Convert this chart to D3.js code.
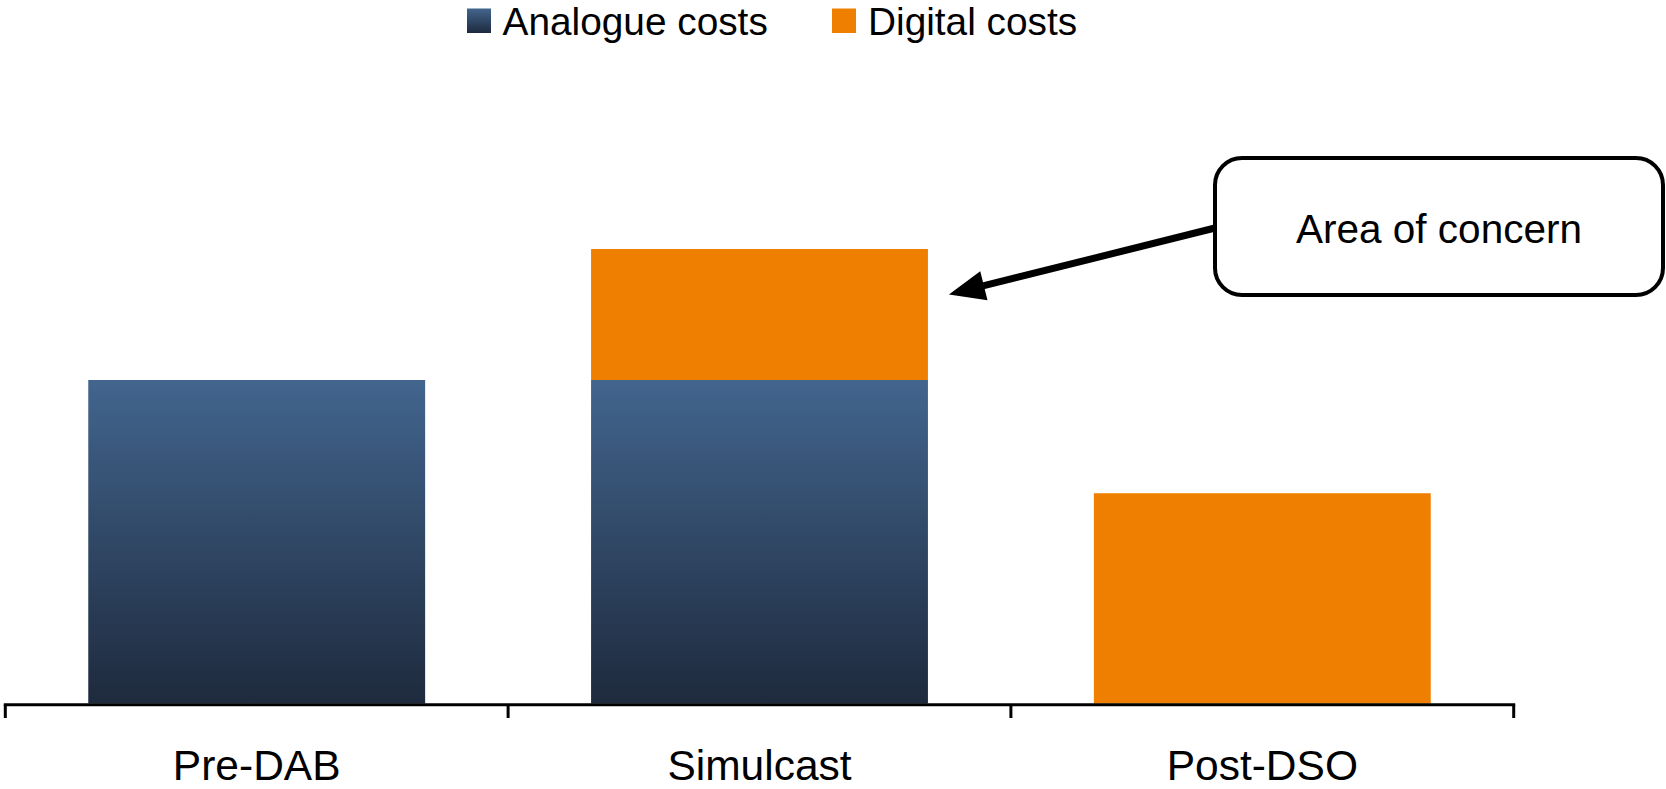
<!DOCTYPE html>
<html>
<head>
<meta charset="utf-8">
<script src="https://cdn.jsdelivr.net/npm/d3@7"></script>
<style>
  html, body { margin: 0; padding: 0; background: #fff; }
  svg { display: block; font-family: "Liberation Sans", Arial, sans-serif; }
</style>
</head>
<body>
<svg id="chart" width="1666" height="789"></svg>
<script>
// Cost phases and the two cost components (relative units)
const categories = ["Pre-DAB", "Simulcast", "Post-DSO"];
const analogueCosts = [100, 100, 0];
const digitalCosts = [0, 40.5, 65];
const seriesNames = ["Analogue costs", "Digital costs"];
const calloutText = "Area of concern";
const calloutTarget = "Simulcast";

const svg = d3.select("#chart");

const x = d3.scaleBand()
  .domain(categories)
  .range([5.3, 1513.7])
  .paddingInner(0.33)
  .paddingOuter(0.165);

const y = d3.scaleLinear()
  .domain([0, 100])
  .range([703.5, 380]);

// Vertical gradient for the analogue series
const defs = svg.append("defs");
const grad = defs.append("linearGradient")
  .attr("id", "analogueGrad")
  .attr("x1", 0).attr("y1", 0).attr("x2", 0).attr("y2", 1);
grad.append("stop").attr("offset", "0%").attr("stop-color", "#42658e");
grad.append("stop").attr("offset", "100%").attr("stop-color", "#1e2a3d");

const orange = "#ee7f00";

// Stack the two series
const rows = categories.map((c, i) => ({ cat: c, analogue: analogueCosts[i], digital: digitalCosts[i] }));
const stack = d3.stack().keys(["analogue", "digital"])(rows);

const fills = { analogue: "url(#analogueGrad)", digital: orange };

svg.append("g").selectAll("g")
  .data(stack)
  .join("g")
  .attr("fill", d => fills[d.key])
  .selectAll("rect")
  .data(d => d.filter(s => s[1] - s[0] > 0))
  .join("rect")
  .attr("x", d => x(d.data.cat))
  .attr("width", x.bandwidth())
  .attr("y", d => y(d[1]))
  .attr("height", d => y(d[0]) - y(d[1]));

// Category axis: baseline, boundary ticks, centred labels
const axisY = 704.7;
const step = x.step();
const half = step * x.paddingInner() / 2;
const bounds = categories.map(c => x(c) - half).concat([x(categories[categories.length - 1]) + x.bandwidth() + half]);

const axisG = svg.append("g");
axisG.append("line")
  .attr("x1", bounds[0] - 1.5).attr("x2", bounds[bounds.length - 1] + 1.5)
  .attr("y1", axisY).attr("y2", axisY)
  .attr("stroke", "#000").attr("stroke-width", 3);
axisG.selectAll("line.tick")
  .data(bounds)
  .join("line")
  .attr("class", "tick")
  .attr("x1", d => d).attr("x2", d => d)
  .attr("y1", axisY).attr("y2", 718)
  .attr("stroke", "#000").attr("stroke-width", 3);

const labelAxis = d3.axisBottom(x).tickSize(0).tickPadding(0);
const lab = svg.append("g").attr("transform", `translate(0,${axisY})`).call(labelAxis);
lab.select(".domain").remove();
lab.selectAll("text")
  .attr("dy", null)
  .attr("y", 75)
  .attr("font-size", 42.5)
  .attr("font-family", "Liberation Sans, Arial, sans-serif")
  .attr("fill", "#000");

// Legend
const legendItems = [
  { name: seriesNames[0], fill: "url(#analogueGrad)", sx: 467, tx: 502.5 },
  { name: seriesNames[1], fill: orange, sx: 832, tx: 868 }
];
const lg = svg.append("g").selectAll("g").data(legendItems).join("g");
lg.append("rect")
  .attr("x", d => d.sx).attr("y", 8.5)
  .attr("width", 24).attr("height", 24.5)
  .attr("fill", d => d.fill);
lg.append("text")
  .attr("x", d => d.tx).attr("y", 35)
  .attr("font-size", 38.8)
  .attr("fill", "#000")
  .text(d => d.name);

// Callout box with arrow pointing at the simulcast digital segment
const box = { x: 1215, y: 158, w: 448, h: 137 };
svg.append("rect")
  .attr("x", box.x).attr("y", box.y)
  .attr("width", box.w).attr("height", box.h)
  .attr("rx", 27).attr("ry", 27)
  .attr("fill", "#fff").attr("stroke", "#000").attr("stroke-width", 4);
svg.append("text")
  .attr("x", box.x + box.w / 2).attr("y", 243)
  .attr("text-anchor", "middle")
  .attr("font-size", 40.5)
  .attr("fill", "#000")
  .text(calloutText);

const iSim = categories.indexOf(calloutTarget);
const tip = [x(calloutTarget) + x.bandwidth() + 21, y(analogueCosts[iSim] + digitalCosts[iSim]) + 45.5];
const start = [box.x, 228];
const dx = tip[0] - start[0], dy = tip[1] - start[1];
const len = Math.hypot(dx, dy);
const ang = Math.atan2(dy, dx) * 180 / Math.PI;
const headLen = 36, headHalf = 15;
const arrow = svg.append("g")
  .attr("transform", `translate(${start[0]},${start[1]}) rotate(${ang})`);
arrow.append("line")
  .attr("x1", 0).attr("y1", 0)
  .attr("x2", len - headLen + 4).attr("y2", 0)
  .attr("stroke", "#000").attr("stroke-width", 7);
arrow.append("path")
  .attr("d", `M${len},0 L${len - headLen},${-headHalf} L${len - headLen},${headHalf} Z`)
  .attr("fill", "#000");
</script>
</body>
</html>
